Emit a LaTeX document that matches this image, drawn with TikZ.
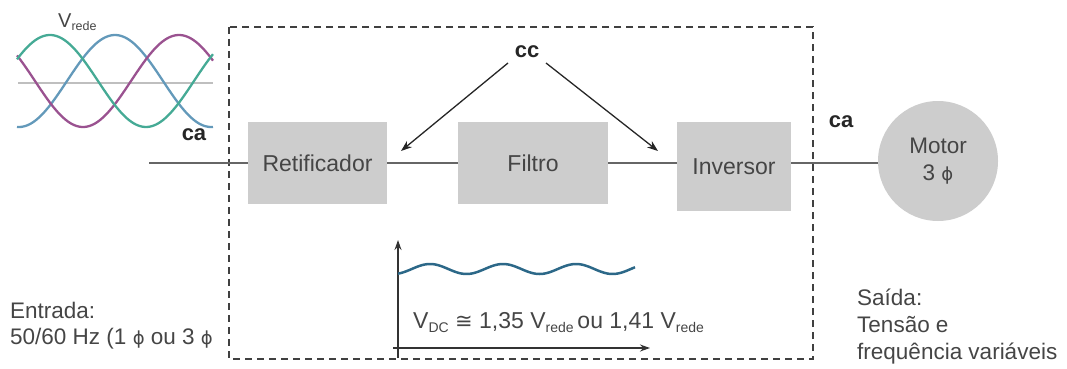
\documentclass[tikz,border=0pt]{standalone}
\usepackage{fontspec}
\setmainfont{Liberation Sans}
\newfontfamily\djv{DejaVu Sans}
\usetikzlibrary{arrows.meta}
\definecolor{txt}{HTML}{454545}
\definecolor{boxfill}{HTML}{CDCDCD}
\definecolor{wire}{HTML}{666666}
\definecolor{phA}{HTML}{45AA95}
\definecolor{phB}{HTML}{6399BA}
\definecolor{phC}{HTML}{9A5290}
\definecolor{dcw}{HTML}{2C6888}
\newcommand{\ph}{{\djv\fontsize{18}{20}\selectfont ϕ}}
\tikzset{
  blk/.style={fill=boxfill, draw=none, text=txt, font=\fontsize{23}{27}\selectfont, inner sep=0pt},
  wireline/.style={draw=wire, line width=2pt},
  cclabel/.style={font=\bfseries\fontsize{22}{26}\selectfont, text=black!85},
  ccarrow/.style={draw=black!85, line width=1.3pt, -{Stealth[length=11pt,width=8pt]}},
  lbl/.style={text=txt, font=\fontsize{22.5}{26}\selectfont, inner sep=0pt},
  axis/.style={draw=black!80, line width=1.5pt, -{Stealth[length=10pt,width=7pt]}}
}
\begin{document}
\begin{tikzpicture}[x=1pt,y=-1pt]
\useasboundingbox (0,0) rectangle (1067,369);
% dashed frame
\draw[draw=black!75, line width=2pt, dash pattern=on 7pt off 5pt] (229,27) rectangle (813,359);
% three-phase waves
\draw[draw=black!25, line width=1.5pt] (18,83) -- (213,83);
\draw[phB, line width=2.3pt] plot[domain=17:213, samples=90] (\x, {81-46*cos((\x-115)*1.875)});
\draw[phC, line width=2.3pt] plot[domain=17:213, samples=90] (\x, {81-46*cos((\x-179)*1.875)});
\draw[phA, line width=2.3pt] plot[domain=17:213, samples=90] (\x, {81-46*cos((\x-50)*1.875)});
\node[text=txt, font=\fontsize{20}{22}\selectfont, inner sep=0pt, anchor=base west] (vrede) at (58,28) {V\raisebox{-3pt}{\fontsize{12.5}{14}\selectfont rede}};
% blocks
\node[blk, minimum width=139pt, minimum height=82pt] (ret) at (317.5,163) {Retificador};
\node[blk, minimum width=150pt, minimum height=82pt] (fil) at (533,163) {Filtro};
\node[blk, minimum width=114pt, minimum height=89pt] (inv) at (734,166.5) {Inversor};
\node[circle, fill=boxfill, minimum size=120pt, inner sep=0pt, text=txt, font=\fontsize{22.5}{26}\selectfont, align=center] (mot) at (938,161) {Motor\\[1pt]3 \ph};
% wires
\coordinate (in) at (149,163);
\draw[wireline] (in) -- (ret.west |- in);
\draw[wireline] (ret.east |- in) -- (fil.west |- in);
\draw[wireline] (fil.east |- in) -- (inv.west |- in);
\draw[wireline] (inv.east |- in) -- (mot.west |- in);
% labels ca / cc
\node[cclabel] (ca1) at (194,135) {ca};
\node[cclabel] (ca2) at (841,122) {ca};
\node[cclabel] (cc) at (527,52) {cc};
\coordinate (ccl) at (508,63);
\coordinate (ccr) at (546,63);
\coordinate (tl) at (401,151);
\coordinate (tr) at (658,151);
\draw[ccarrow] (ccl) -- (tl);
\draw[ccarrow] (ccr) -- (tr);
% DC inset
\coordinate (yt) at (398,240);
\coordinate (xt) at (650,348);
\coordinate (yb) at (398,358);
\coordinate (xb) at (393,348);
\draw[axis] (yb) -- (yt);
\draw[axis] (xb) -- (xt);
\draw[dcw, line width=2.5pt] plot[domain=398:635, samples=120] (\x, {269-5*cos((\x-430)*4.93)});
\node[text=txt, font=\fontsize{23}{27}\selectfont, inner sep=0pt, anchor=base west] (vdc) at (413,328) {V\raisebox{-4pt}{\fontsize{14}{16}\selectfont DC} {\djv\fontsize{21}{24}\selectfont ≅} 1,35 V\raisebox{-4pt}{\fontsize{14}{16}\selectfont rede}\,ou 1,41 V\raisebox{-4pt}{\fontsize{14}{16}\selectfont rede}};
% side texts
\node[lbl, anchor=base west] (ent1) at (10,318) {Entrada:};
\node[lbl, anchor=base west] (ent2) at (10,344) {50/60 Hz (1 \ph\ ou 3 \ph};
\node[lbl, anchor=base west] (sai1) at (857,305) {Saída:};
\node[lbl, anchor=base west] (sai2) at (857,332) {Tensão e};
\node[lbl, anchor=base west] (sai3) at (857,359) {frequência variáveis};
\end{tikzpicture}
\end{document}
